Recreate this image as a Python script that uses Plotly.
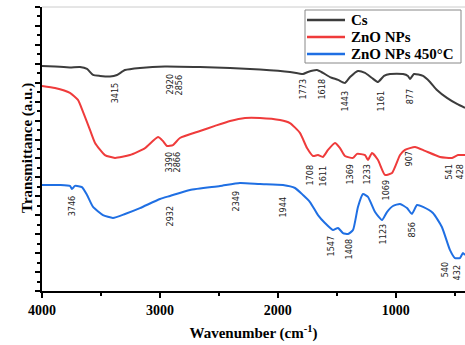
import plotly.graph_objects as go

# ---- data ----
cs_wn = [4000, 3890, 3763, 3678, 3618, 3567, 3508, 3423, 3364, 3296, 3169, 2957, 2660, 2405, 2151, 1897,
         1786, 1744, 1667, 1617, 1557, 1489, 1430, 1387, 1320, 1260, 1201, 1150, 1099, 1048, 938, 896,
         879, 845, 768, 709, 650, 565, 480, 412]
cs_t = [11.89, 11.86, 11.81, 11.83, 11.73, 11.41, 11.36, 11.33, 11.41, 11.67, 11.78, 11.86, 11.83, 11.78, 11.70, 11.57,
        11.46, 11.57, 11.67, 11.52, 11.30, 11.15, 10.99, 11.30, 11.62, 11.52, 11.25, 11.04, 11.36, 11.46, 11.46, 11.36,
        11.20, 11.46, 11.36, 11.04, 10.62, 10.20, 9.88, 9.67]

zno_wn = [4000, 3890, 3763, 3695, 3652, 3593, 3550, 3466, 3381, 3254, 3126, 3016, 2974, 2940, 2889, 2830,
          2660, 2533, 2405, 2278, 2151, 1981, 1897, 1812, 1752, 1701, 1659, 1617, 1574, 1515, 1472, 1430,
          1362, 1328, 1260, 1235, 1201, 1150, 1091, 1031, 963, 921, 836, 751, 624, 522, 471, 412]
zno_t = [10.83, 10.72, 10.46, 10.09, 9.46, 8.51, 7.82, 7.18, 7.03, 7.18, 7.55, 8.13, 7.92, 7.66, 7.71, 8.08,
         8.45, 8.72, 8.98, 9.14, 9.14, 9.03, 8.87, 8.35, 7.55, 7.13, 7.18, 7.08, 7.45, 7.82, 7.55, 7.13,
         7.03, 7.24, 7.18, 6.92, 7.29, 6.92, 6.13, 6.23, 7.18, 7.45, 7.61, 7.40, 7.08, 7.03, 7.18, 7.18]

zno450_wn = [4000, 3847, 3763, 3746, 3720, 3661, 3618, 3567, 3483, 3398, 3296, 3169, 2999, 2914, 2745, 2490,
             2321, 2151, 1956, 1854, 1786, 1727, 1659, 1600, 1532, 1489, 1447, 1404, 1362, 1320, 1277, 1235,
             1175, 1116, 1074, 1023, 963, 904, 862, 819, 768, 684, 608, 540, 497, 455, 429, 412]
zno450_t = [5.60, 5.60, 5.55, 5.39, 5.55, 5.49, 5.07, 4.44, 4.01, 3.86, 4.07, 4.38, 4.86, 5.02, 5.34, 5.55,
            5.71, 5.65, 5.60, 5.44, 5.07, 4.70, 4.01, 3.59, 3.22, 3.33, 3.06, 3.01, 3.22, 4.44, 5.12, 4.97,
            4.17, 3.75, 4.17, 4.49, 4.60, 4.38, 4.07, 4.54, 4.44, 4.12, 3.38, 2.17, 1.74, 1.74, 2.01, 1.90]

series_names = ["Cs", "ZnO NPs", "ZnO NPs 450°C"]
series_colors = ["#3c3c3c", "#ef3b3b", "#1f6fe3"]

# peak labels: text, x position (wavenumber), top of label (transmittance)
cs_lbl = ["3415", "2920", "2856", "1773", "1618", "1443", "1161", "877"]
cs_lbl_x = [3381, 2914, 2838, 1786, 1625, 1430, 1125, 879]
cs_lbl_y = [11.15, 11.57, 11.57, 11.30, 11.30, 10.72, 10.72, 10.78]

zno_lbl = ["3390", "2866", "1708", "1611", "1369", "1233", "1069", "907", "541", "428"]
zno_lbl_x = [2923, 2855, 1727, 1617, 1387, 1243, 1082, 887, 548, 455]
zno_lbl_y = [7.50, 7.50, 6.81, 6.76, 6.81, 6.81, 5.97, 7.45, 6.81, 6.81]

zno450_lbl = ["3746", "2932", "2349", "1944", "1547", "1408", "1123", "856", "540", "432"]
zno450_lbl_x = [3746, 2914, 2355, 1956, 1557, 1396, 1108, 862, 574, 472]
zno450_lbl_y = [5.18, 4.60, 5.44, 5.12, 3.01, 2.91, 3.70, 3.75, 1.64, 1.48]

x_ticks = [4000, 3000, 2000, 1000]

SERIF = "Liberation Serif, Times New Roman, serif"
NARROW = "Liberation Sans Narrow, Arial Narrow, DejaVu Sans Condensed, sans-serif"

W, H = 465, 345
ML, MR, MT, MB = 42, 0, 7, 54
PW, PH = W - ML - MR, H - MT - MB


def px(xp):  # pixel x -> paper x
    return (xp - ML) / PW


def py(yp):  # pixel y -> paper y
    return (H - MB - yp) / PH


fig = go.Figure()
for wn, t, name, col in zip([cs_wn, zno_wn, zno450_wn], [cs_t, zno_t, zno450_t], series_names, series_colors):
    fig.add_trace(go.Scatter(x=wn, y=t, mode="lines", name=name, showlegend=False,
                             line=dict(color=col, width=2, shape="spline", smoothing=0.5)))

for lbls, xs, ys in [(cs_lbl, cs_lbl_x, cs_lbl_y), (zno_lbl, zno_lbl_x, zno_lbl_y),
                     (zno450_lbl, zno450_lbl_x, zno450_lbl_y)]:
    for txt, xv, yv in zip(lbls, xs, ys):
        fig.add_annotation(x=xv, y=yv, text=txt, showarrow=False, textangle=-90,
                           xanchor="center", yanchor="top",
                           font=dict(family=NARROW, size=9, color="#222"))

# top frame line
fig.add_shape(type="line", xref="paper", yref="paper", x0=0, x1=1, y0=1, y1=1,
              line=dict(color="#cccccc", width=1))

# y-axis title
fig.add_annotation(xref="paper", yref="paper", x=px(27), y=py(148), text="Transmittance (a.u.)",
                   showarrow=False, textangle=-90, xanchor="center", yanchor="middle",
                   font=dict(family=SERIF, size=15, color="black", weight="bold"))

# legend box drawn as shapes + text
fig.add_shape(type="rect", xref="paper", yref="paper", x0=px(305), x1=px(461), y0=py(63), y1=py(10),
              line=dict(color="#888", width=1), fillcolor="white", layer="above")
for i, (name, col) in enumerate(zip(series_names, series_colors)):
    row_y = 20 + 17 * i
    fig.add_shape(type="line", xref="paper", yref="paper", x0=px(307), x1=px(345),
                  y0=py(row_y), y1=py(row_y), line=dict(color=col, width=2.5), layer="above")
    fig.add_annotation(xref="paper", yref="paper", x=px(349), y=py(row_y), text=name,
                       showarrow=False, xanchor="left", yanchor="middle",
                       font=dict(family=SERIF, size=15, color="black", weight="bold"))

fig.update_layout(
    width=W, height=H,
    margin=dict(l=ML, r=MR, t=MT, b=MB),
    paper_bgcolor="white", plot_bgcolor="white",
    showlegend=False,
    xaxis=dict(range=[4000, 412], tickvals=x_ticks, ticktext=[str(v) for v in x_ticks],
               showgrid=False, zeroline=False, showline=True, linecolor="black", linewidth=2,
               ticks="outside", ticklen=5, tickwidth=2, tickcolor="black",
               minor=dict(dtick=500, ticks="outside", ticklen=3, tickwidth=2, tickcolor="black"),
               tickfont=dict(family=SERIF, size=14, color="black", weight="bold"),
               title=dict(text="Wavenumber (cm<sup>-1</sup>)", standoff=11,
                          font=dict(family=SERIF, size=15, color="black", weight="bold"))),
    yaxis=dict(range=[0, 15], dtick=1, showticklabels=False,
               showgrid=False, zeroline=False, showline=True, linecolor="black", linewidth=2,
               ticks="outside", ticklen=5, tickwidth=2, tickcolor="black",
               minor=dict(dtick=0.5, ticks="outside", ticklen=3, tickwidth=1.5, tickcolor="black")),
)

fig.write_html("out.html")
